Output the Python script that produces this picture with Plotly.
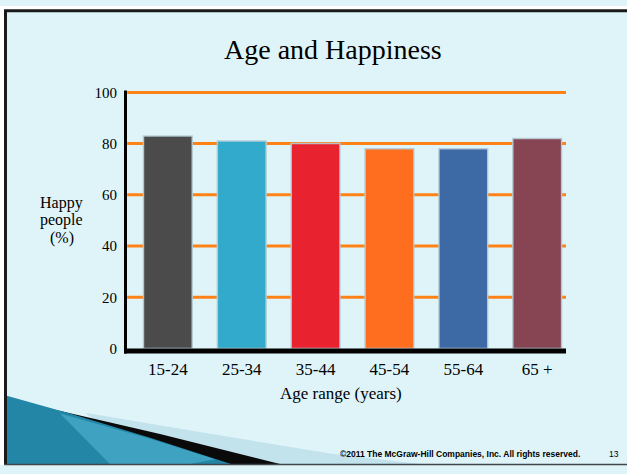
import plotly.graph_objects as go

# ---- data ----
age_ranges = ["15-24", "25-34", "35-44", "45-54", "55-64", "65 +"]
happy_pct = [83, 81, 80, 78, 78, 82]
bar_colors = ["#4B4B4B", "#31AACB", "#E8232F", "#FF6D1E", "#3D69A5", "#874452"]
y_ticks = [0, 20, 40, 60, 80, 100]
grid_vals = [20, 40, 60, 80, 100]

W, H = 627, 474
SERIF = "Liberation Serif, Times New Roman, serif"
SANS = "Liberation Sans, Arial, sans-serif"


def px(x):
    return x / W


def py(y):
    return 1 - y / H


fig = go.Figure()
fig.add_trace(go.Bar(
    x=age_ranges,
    y=happy_pct,
    marker=dict(color=bar_colors, line=dict(color="rgba(180,205,215,0.9)", width=1.5)),
    hoverinfo="x+y",
))

shapes = []
# orange gridlines (behind bars)
for v in grid_vals:
    shapes.append(dict(type="line", xref="x domain", yref="y", x0=0.005, x1=1, y0=v, y1=v,
                       line=dict(color="#FF8217", width=3), layer="below"))
# axis lines
shapes.append(dict(type="line", xref="paper", yref="paper", x0=px(125.5), x1=px(125.5),
                   y0=py(87), y1=py(358), line=dict(color="black", width=3)))
shapes.append(dict(type="line", xref="paper", yref="paper", x0=px(124), x1=px(566),
                   y0=py(355.5), y1=py(355.5), line=dict(color="black", width=5)))

# slide frame: white margins
shapes.append(dict(type="rect", xref="paper", yref="paper", x0=0, x1=1, y0=py(0), y1=py(4),
                   fillcolor="white", line=dict(width=0)))
shapes.append(dict(type="rect", xref="paper", yref="paper", x0=0, x1=px(4), y0=0, y1=1,
                   fillcolor="white", line=dict(width=0)))
shapes.append(dict(type="rect", xref="paper", yref="paper", x0=0, x1=1, y0=0, y1=py(473),
                   fillcolor="#EDEDED", line=dict(width=0)))


def path(points):
    return "M " + " L ".join(f"{px(x):.5f},{py(y):.5f}" for x, y in points) + " Z"


# decorative swoosh (bottom-left)
shapes.append(dict(type="path", xref="paper", yref="paper",
                   path=path([(85, 419), (200, 439), (330, 461), (420, 472), (150, 472)]),
                   fillcolor="#C3E3EC", line=dict(width=0)))
shapes.append(dict(type="path", xref="paper", yref="paper",
                   path=path([(55, 416), (160, 441), (280, 472), (150, 472)]),
                   fillcolor="#0A0A0A", line=dict(width=0)))
shapes.append(dict(type="path", xref="paper", yref="paper",
                   path=path([(5, 401), (70, 420), (150, 445), (231, 472), (5, 472)]),
                   fillcolor="#2386A6", line=dict(width=0)))
shapes.append(dict(type="path", xref="paper", yref="paper",
                   path=path([(60, 420), (150, 446), (215, 467), (190, 472), (110, 472)]),
                   fillcolor="rgba(90,185,215,0.55)", line=dict(width=0)))

# border lines
shapes.append(dict(type="line", xref="paper", yref="paper", x0=px(4), x1=1.01, y0=py(5), y1=py(5),
                   line=dict(color="#1A1A1A", width=3)))
shapes.append(dict(type="line", xref="paper", yref="paper", x0=px(5.5), x1=px(5.5), y0=py(4), y1=py(473),
                   line=dict(color="#1A1A1A", width=3)))
shapes.append(dict(type="line", xref="paper", yref="paper", x0=px(4), x1=1.01, y0=py(472.5), y1=py(472.5),
                   line=dict(color="#3A4A50", width=1.5)))


def label(text, x, y, size, family=SERIF, xanchor="center"):
    return dict(text=text, x=px(x), y=py(y), xref="paper", yref="paper", showarrow=False,
                xanchor=xanchor, yanchor="middle", font=dict(family=family, size=size, color="black"))


annotations = [
    label("Age and Happiness", 333, 45, 28),
    label("Age range (years)", 340.5, 399, 17),
    label("Happy", 62, 203, 16),
    label("people", 62, 221, 16),
    label("(%)", 62, 239, 16),
    label("<b>©2011 The McGraw-Hill Companies, Inc. All rights reserved.</b>", 582, 462, 8.5,
          family=SANS, xanchor="right"),
    label("13", 614, 462, 8.5, family=SANS),
]

fig.update_layout(
    width=W, height=H,
    margin=dict(l=0, r=0, t=0, b=0),
    paper_bgcolor="#DFF4F9",
    plot_bgcolor="rgba(0,0,0,0)",
    showlegend=False,
    bargap=0.34,
    shapes=shapes,
    annotations=annotations,
    xaxis=dict(domain=[px(125), px(566)], range=[-0.58, 5.39], showgrid=False, showline=False,
               zeroline=False, ticks="", ticklabelstandoff=8,
               tickfont=dict(family=SERIF, size=17, color="black")),
    yaxis=dict(domain=[py(353), py(86.9)], range=[0, 100.8], tickvals=y_ticks, showgrid=False,
               showline=False, zeroline=False, ticks="", ticklabelstandoff=7,
               tickfont=dict(family=SERIF, size=15, color="black")),
)

fig.write_html("out.html")
